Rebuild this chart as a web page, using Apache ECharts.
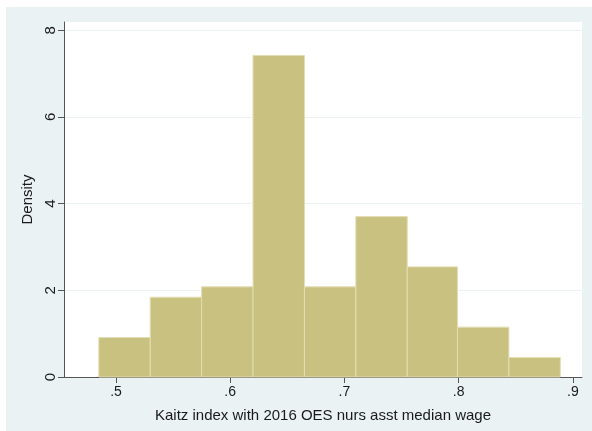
<!DOCTYPE html>
<html>
<head>
<meta charset="utf-8">
<style>
  html, body { margin: 0; padding: 0; background: #ffffff; }
  #chart { width: 592px; height: 431px; }
</style>
<script src="https://cdn.jsdelivr.net/npm/echarts@6/dist/echarts.min.js"></script>
</head>
<body>
<div id="chart"></div>
<script>
// Histogram bin edges (Kaitz index) and bar densities
const binEdges = [0.485, 0.530, 0.575, 0.620, 0.665, 0.710, 0.755, 0.799, 0.844, 0.889];
const densities = [0.91, 1.84, 2.08, 7.42, 2.08, 3.70, 2.54, 1.15, 0.45];
const xTicks = [0.5, 0.6, 0.7, 0.8, 0.9];
const yTicks = [0, 2, 4, 6, 8];

const bins = densities.map((d, i) => [binEdges[i], binEdges[i + 1], d]);

const FONT = '"Liberation Sans", Arial, Helvetica, sans-serif';
const chart = echarts.init(document.getElementById('chart'), null, { renderer: 'canvas' });

chart.setOption({
  backgroundColor: '#ffffff',
  animation: false,
  graphic: [{
    type: 'rect', z: -10, silent: true,
    shape: { x: 6, y: 7, width: 600, height: 440 },
    style: { fill: '#eaf2f3' }
  }],
  grid: {
    left: 64, right: 10, top: 22, bottom: 54,
    show: true, backgroundColor: '#ffffff', borderWidth: 0
  },
  xAxis: {
    type: 'value', min: 0.4545, max: 0.908,
    name: 'Kaitz index with 2016 OES nurs asst median wage',
    nameLocation: 'middle', nameGap: 31,
    nameTextStyle: { color: '#1a1a1a', fontSize: 15, fontFamily: FONT },
    axisLine: { show: true, onZero: false, lineStyle: { color: '#555', width: 1 } },
    axisTick: { show: true, length: 6, customValues: xTicks, lineStyle: { color: '#555' } },
    axisLabel: {
      customValues: xTicks, margin: 8, color: '#1a1a1a', fontSize: 14, fontFamily: FONT,
      formatter: v => String(v).replace(/^0/, '')
    },
    splitLine: { show: false }
  },
  yAxis: {
    type: 'value', min: 0, max: 8.19,
    name: 'Density', nameLocation: 'middle', nameGap: 21,
    nameTextStyle: { color: '#1a1a1a', fontSize: 15, fontFamily: FONT },
    axisLine: { show: true, lineStyle: { color: '#555', width: 1 } },
    axisTick: { show: true, length: 6, customValues: yTicks, lineStyle: { color: '#555' } },
    axisLabel: {
      customValues: yTicks, rotate: 90, margin: 6, color: '#1a1a1a', fontSize: 15, fontFamily: FONT
    },
    splitLine: { show: true, lineStyle: { color: '#eaf2f3', width: 1 } }
  },
  series: [{
    type: 'custom',
    data: bins,
    encode: { x: [0, 1], y: 2 },
    renderItem: (params, api) => {
      const p0 = api.coord([api.value(0), 0]);
      const p1 = api.coord([api.value(1), api.value(2)]);
      return {
        type: 'rect',
        shape: { x: p0[0], y: p1[1], width: p1[0] - p0[0], height: p0[1] - p1[1] },
        style: { fill: '#c9c17f', stroke: '#e2ddb4', lineWidth: 1 }
      };
    }
  }]
});
</script>
</body>
</html>
